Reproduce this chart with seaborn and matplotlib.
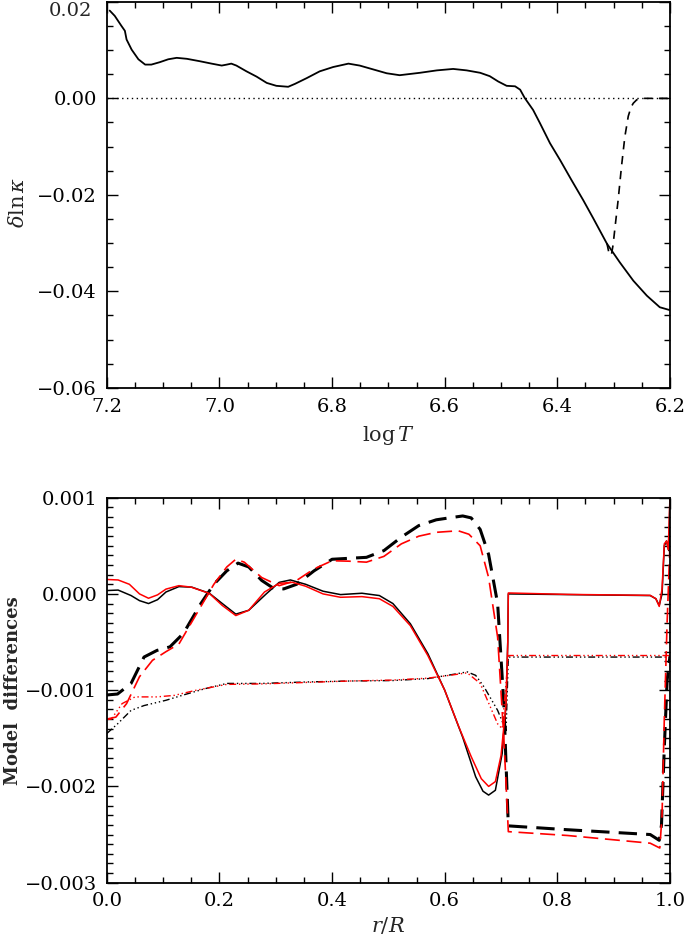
import numpy as np
import pandas as pd
import matplotlib
matplotlib.use('Agg')
import matplotlib.pyplot as plt
from matplotlib.ticker import MultipleLocator, FuncFormatter
import seaborn as sns

# Panel superior: diferencia de opacidad frente a log T
logT_solid = [7.195, 7.186, 7.174, 7.168, 7.165, 7.156, 7.144, 7.132, 7.121, 7.106,
              7.091, 7.076, 7.058, 7.035, 7.014, 6.996, 6.987, 6.979, 6.970, 6.952,
              6.934, 6.916, 6.899, 6.878, 6.866, 6.845, 6.822, 6.798, 6.771, 6.751,
              6.727, 6.703, 6.680, 6.644, 6.614, 6.585, 6.561, 6.537, 6.520, 6.505,
              6.490, 6.475, 6.466, 6.458, 6.443, 6.431, 6.413, 6.395, 6.375, 6.354,
              6.336, 6.312, 6.289, 6.265, 6.241, 6.218, 6.2]
dlnk_solid = [0.0182, 0.0171, 0.0150, 0.0140, 0.0122, 0.0101, 0.0081, 0.0070, 0.0070, 0.0075,
              0.0081, 0.0084, 0.0082, 0.0077, 0.0072, 0.0068, 0.0070, 0.0072, 0.0068, 0.0056,
              0.0045, 0.0032, 0.0026, 0.0024, 0.0030, 0.0042, 0.0056, 0.0065, 0.0072, 0.0068,
              0.0060, 0.0052, 0.0048, 0.0053, 0.0058, 0.0061, 0.0058, 0.0053, 0.0046, 0.0035,
              0.0026, 0.0025, 0.0018, 0.0001, -0.0024, -0.0051, -0.0093, -0.0128, -0.0169, -0.0211,
              -0.0249, -0.0301, -0.0340, -0.0378, -0.0409, -0.0433, -0.0439]

logT_dash = [6.312, 6.308, 6.304, 6.301, 6.297, 6.292, 6.286, 6.280, 6.274, 6.269,
             6.265, 6.259, 6.253, 6.2]
dlnk_dash = [-0.0300, -0.0322, -0.0325, -0.0304, -0.0262, -0.0211, -0.0141, -0.0079, -0.0037, -0.0018,
             -0.0010, -0.0003, 0.0, 0.0]

# Panel inferior: diferencias entre modelos (en unidades de 1e-3) frente a r/R
r_sol_k = [0.0, 0.02, 0.043, 0.058, 0.074, 0.09, 0.105, 0.128, 0.151, 0.182,
           0.205, 0.229, 0.252, 0.283, 0.306, 0.326, 0.353, 0.384, 0.415, 0.453,
           0.484, 0.508, 0.539, 0.57, 0.60, 0.632, 0.655, 0.668, 0.678, 0.69,
           0.702, 0.709, 0.712, 0.713, 0.818, 0.965, 0.975, 0.981, 0.986, 0.990,
           0.994, 0.998, 1.0]
d_sol_k = [0.035, 0.04, -0.017, -0.07, -0.10, -0.06, 0.02, 0.076, 0.07, 0.007,
           -0.10, -0.21, -0.17, 0.0, 0.12, 0.145, 0.10, 0.028, -0.007, 0.007,
           -0.017, -0.10, -0.31, -0.62, -1.0, -1.49, -1.90, -2.05, -2.09, -2.04,
           -1.66, -1.14, -0.5, 0.0, -0.007, -0.017, -0.05, -0.12, 0.0, 0.50,
           0.55, 0.45, 1.0]

r_sol_r = [0.0, 0.02, 0.04, 0.058, 0.074, 0.09, 0.105, 0.128, 0.15, 0.182,
           0.205, 0.229, 0.252, 0.28, 0.306, 0.33, 0.353, 0.384, 0.415, 0.453,
           0.484, 0.508, 0.539, 0.57, 0.60, 0.625, 0.647, 0.665, 0.678, 0.69,
           0.70, 0.709, 0.712, 0.713, 0.818, 0.965, 0.975, 0.981, 0.986, 0.990,
           0.994, 0.997, 1.0]
d_sol_r = [0.15, 0.145, 0.10, 0.0, -0.045, -0.01, 0.05, 0.086, 0.07, 0.005,
           -0.12, -0.225, -0.17, 0.02, 0.11, 0.12, 0.08, 0.0, -0.035, -0.028,
           -0.05, -0.13, -0.33, -0.64, -1.0, -1.38, -1.69, -1.92, -2.0, -1.95,
           -1.68, -1.14, -0.5, 0.01, -0.005, -0.015, -0.05, -0.13, 0.05, 0.52,
           0.55, 0.46, 1.0]

r_dash_k = [0.0, 0.019, 0.043, 0.066, 0.089, 0.112, 0.136, 0.167, 0.19, 0.213,
            0.233, 0.252, 0.275, 0.295, 0.314, 0.337, 0.368, 0.40, 0.43, 0.461,
            0.492, 0.523, 0.554, 0.585, 0.608, 0.632, 0.647, 0.663, 0.678, 0.694,
            0.705, 0.713, 0.818, 0.965, 0.981, 0.985, 0.990, 0.995, 1.0]
d_dash_k = [-1.05, -1.04, -0.93, -0.656, -0.587, -0.55, -0.41, -0.10, 0.10, 0.24,
            0.32, 0.28, 0.14, 0.062, 0.052, 0.10, 0.24, 0.36, 0.37, 0.38,
            0.45, 0.59, 0.71, 0.77, 0.79, 0.81, 0.79, 0.67, 0.41, -0.10,
            -1.14, -2.41, -2.45, -2.50, -2.56, -2.40, -1.6, -0.9, -0.65]

r_dash_r = [0.0, 0.016, 0.035, 0.058, 0.081, 0.105, 0.128, 0.159, 0.19, 0.213,
            0.229, 0.244, 0.275, 0.306, 0.337, 0.368, 0.40, 0.43, 0.461, 0.492,
            0.523, 0.554, 0.585, 0.624, 0.643, 0.663, 0.678, 0.694, 0.705, 0.713,
            0.818, 0.965, 0.982, 0.986, 0.990, 0.995, 1.0]
d_dash_r = [-1.30, -1.28, -1.14, -0.86, -0.69, -0.60, -0.52, -0.21, 0.10, 0.28,
            0.36, 0.33, 0.17, 0.086, 0.14, 0.26, 0.345, 0.34, 0.33, 0.39,
            0.52, 0.60, 0.64, 0.656, 0.62, 0.50, 0.17, -0.45, -1.49, -2.47,
            -2.51, -2.59, -2.64, -2.3, -1.3, -0.3, 0.5]

r_dd_k = [0.0, 0.019, 0.043, 0.066, 0.105, 0.136, 0.174, 0.213, 0.275, 0.353,
          0.43, 0.508, 0.57, 0.616, 0.64, 0.655, 0.67, 0.694, 0.709, 0.713, 1.0]
d_dd_k = [-1.45, -1.35, -1.21, -1.16, -1.105, -1.05, -0.985, -0.93, -0.93, -0.915,
          -0.905, -0.90, -0.88, -0.835, -0.81, -0.846, -0.967, -1.21, -1.42, -0.656, -0.656]

r_dd_r = [0.0, 0.008, 0.027, 0.05, 0.089, 0.12, 0.159, 0.213, 0.275, 0.353,
          0.43, 0.508, 0.57, 0.616, 0.64, 0.663, 0.694, 0.702, 0.713, 1.0]
d_dd_r = [-1.305, -1.30, -1.14, -1.07, -1.07, -1.054, -1.0, -0.94, -0.935, -0.92,
          -0.905, -0.895, -0.875, -0.84, -0.82, -0.93, -1.35, -1.40, -0.64, -0.64]

sns.set_style('ticks')
plt.rcParams['font.family'] = ['DejaVu Serif']
plt.rcParams['mathtext.fontset'] = 'dejavuserif'

fig = plt.figure(figsize=(6.85, 9.39), dpi=100)
ax1 = fig.add_axes([0.156, 0.587, 0.822, 0.411])
ax2 = fig.add_axes([0.156, 0.060, 0.822, 0.410])


def linea(ax, x, y, color, lw, dashes=None):
    df = pd.DataFrame({'x': x, 'y': y})
    sns.lineplot(data=df, x='x', y='y', ax=ax, color=color, linewidth=lw,
                 sort=False, estimator=None)
    if dashes is not None:
        ax.lines[-1].set_dashes(dashes)


def fmt(dec, omitir=None):
    def f(v, p):
        if omitir is not None and abs(v - omitir) < 1e-9:
            return ''
        return f'{v:.{dec}f}'.replace('-', '\u2212')
    return FuncFormatter(f)


# Panel superior
ax1.axhline(0.0, color='k', lw=1.0, ls=(0, (1, 2.5)))
linea(ax1, logT_solid, dlnk_solid, 'k', 1.3)
linea(ax1, logT_dash, dlnk_dash, 'k', 1.2, (5, 4))
ax1.set_xlim(7.2, 6.2)
ax1.set_ylim(-0.06, 0.02)
ax1.xaxis.set_major_locator(MultipleLocator(0.2))
ax1.xaxis.set_minor_locator(MultipleLocator(0.05))
ax1.yaxis.set_major_locator(MultipleLocator(0.02))
ax1.yaxis.set_minor_locator(MultipleLocator(0.005))
ax1.xaxis.set_major_formatter(fmt(1))
# la etiqueta 0.02 va alineada por arriba, como en el original
ax1.yaxis.set_major_formatter(fmt(2, omitir=0.02))
ax1.text(-0.0265, 1.0, '0.02', transform=ax1.transAxes, ha='right', va='top',
         fontsize=14)
ax1.set_xlabel(r'$\log T$', fontsize=15, labelpad=6)
ax1.set_ylabel(r'$\delta\ln\kappa$', fontsize=15)
ax1.yaxis.set_label_coords(-0.14, 0.48)

# Panel inferior
escala = 1e-3
linea(ax2, r_sol_k, np.array(d_sol_k) * escala, 'k', 1.1)
linea(ax2, r_dash_k, np.array(d_dash_k) * escala, 'k', 2.2, (6, 3))
linea(ax2, r_dd_k, np.array(d_dd_k) * escala, 'k', 1.0, (5, 2, 1, 2, 1, 2, 1, 2))
linea(ax2, r_sol_r, np.array(d_sol_r) * escala, 'red', 1.1)
linea(ax2, r_dash_r, np.array(d_dash_r) * escala, 'red', 1.2, (9, 4))
linea(ax2, r_dd_r, np.array(d_dd_r) * escala, 'red', 1.0, (5, 2, 1, 2, 1, 2, 1, 2))
ax2.set_xlim(0.0, 1.0)
ax2.set_ylim(-0.003, 0.001)
ax2.xaxis.set_major_locator(MultipleLocator(0.2))
ax2.xaxis.set_minor_locator(MultipleLocator(0.05))
ax2.yaxis.set_major_locator(MultipleLocator(0.001))
ax2.yaxis.set_minor_locator(MultipleLocator(0.0001))
ax2.xaxis.set_major_formatter(fmt(1))
ax2.yaxis.set_major_formatter(fmt(3))
ax2.set_xlabel(r'$r/R$', fontsize=15, labelpad=3)
ax2.set_ylabel('Model  differences', fontsize=13, fontweight='bold')
ax2.yaxis.set_label_coords(-0.15, 0.5)

for ax in (ax1, ax2):
    for s in ax.spines.values():
        s.set_visible(True)
        s.set_linewidth(1.3)
        s.set_color('k')
    ax.tick_params(which='both', direction='in', top=True, right=True,
                   colors='k', width=1.0)
    ax.tick_params(which='major', length=8, labelsize=14, pad=7)
    ax.tick_params(which='minor', length=4)

fig.savefig('out.png', dpi=100)
